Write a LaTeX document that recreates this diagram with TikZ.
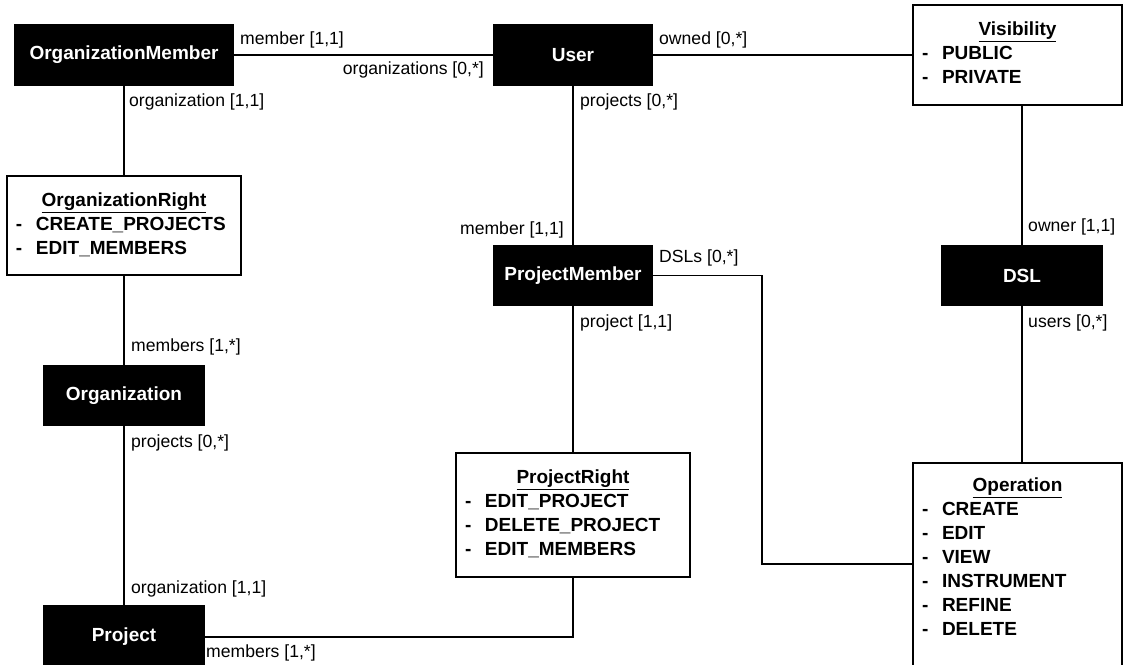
\documentclass[tikz,border=0pt]{standalone}
\usepackage{fontspec}
\setmainfont{Liberation Sans}

\tikzset{
  entity/.style={shape=rectangle, draw, fill=black, text=white, line width=1.3pt,
    minimum height=60pt, inner sep=0pt, font=\bfseries\fontsize{19}{24}\selectfont},
  enumbox/.style={shape=rectangle, draw, fill=white, line width=1.3pt, align=left,
    inner xsep=9pt, inner ysep=0pt, font=\bfseries\fontsize{19}{24}\selectfont},
  role/.style={inner sep=0pt, font=\fontsize{17.6}{21}\selectfont},
  assoc/.style={draw, line width=1.3pt}
}
\newcommand{\enumhead}[1]{\strut\hfill\underline{#1}\hfill\mbox{}}
\newcommand{\litem}[1]{\strut\makebox[20pt][l]{-}#1}

\begin{document}
\begin{tikzpicture}[x=1pt,y=-1pt]
\useasboundingbox (0,0) rectangle (1123,664);

% entities
\path (124,55) node (OrgMember) [entity, minimum width=219pt] {OrganizationMember};
\path (573,55) node (User) [entity, minimum width=159pt] {User};
\path (573,275.5) node (ProjMember) [entity, minimum width=159pt, minimum height=59pt] {ProjectMember};
\path (1022,275.5) node (DSL) [entity, minimum width=160pt, minimum height=59pt] {DSL};
\path (124,395.5) node (Org) [entity, minimum width=160pt, minimum height=59pt] {Organization};
\path (124,637) node (Project) [entity, minimum width=160pt, minimum height=62pt] {Project};

% enumerations
\path (1017.5,55) node (Visibility) [enumbox, text width=191pt, minimum height=100pt]
  {\enumhead{Visibility}\\ \litem{PUBLIC}\\ \litem{PRIVATE}};
\path (124,225.5) node (OrgRight) [enumbox, text width=216pt, minimum height=99pt]
  {\enumhead{OrganizationRight}\\ \litem{CREATE\_PROJECTS}\\ \litem{EDIT\_MEMBERS}};
\path (573,515) node (ProjRight) [enumbox, text width=216pt, minimum height=124pt]
  {\enumhead{ProjectRight}\\ \litem{EDIT\_PROJECT}\\ \litem{DELETE\_PROJECT}\\ \litem{EDIT\_MEMBERS}};
\path (1017.5,573) node (Operation) [enumbox, text width=191pt, minimum height=220pt]
  {\enumhead{Operation}\\ \litem{CREATE}\\ \litem{EDIT}\\ \litem{VIEW}\\ \litem{INSTRUMENT}\\
   \litem{REFINE}\\ \litem{DELETE}\rule[-35pt]{0pt}{0pt}};

% associations
\coordinate (dslbend) at (762,564);
\draw[assoc] (OrgMember.east) -- (User.west);
\draw[assoc] (User.east) -- (Visibility.west);
\draw[assoc] (OrgMember.south) -- (OrgRight.north);
\draw[assoc] (OrgRight.south) -- (Org.north);
\draw[assoc] (Org.south) -- (Project.north);
\draw[assoc] (User.south) -- (ProjMember.north);
\draw[assoc] (ProjMember.south) -- (ProjRight.north);
\draw[assoc] (ProjRight.south) |- (Project.east);
\draw[assoc] (ProjMember.east) -| (dslbend) -- (dslbend -| Operation.west);
\draw[assoc] (DSL.north) -- (DSL.north |- Visibility.south);
\draw[assoc] (DSL.south) -- (DSL.south |- Operation.north);

% roles
\path (240,40) node (rOMuser) [role, anchor=west] {member [1,1]};
\path (484,70) node (rUserOM) [role, anchor=east] {organizations [0,*]};
\path (659,40) node (rUserVis) [role, anchor=west] {owned [0,*]};
\path (129,102) node (rOMorg) [role, anchor=west] {organization [1,1]};
\path (580,102) node (rUserPM) [role, anchor=west] {projects [0,*]};
\path (564,230) node (rPMuser) [role, anchor=east] {member [1,1]};
\path (659,258) node (rPMdsl) [role, anchor=west] {DSLs [0,*]};
\path (580,323) node (rPMproj) [role, anchor=west] {project [1,1]};
\path (1028,227) node (rDSLowner) [role, anchor=west] {owner [1,1]};
\path (1028,323) node (rDSLusers) [role, anchor=west] {users [0,*]};
\path (131,347) node (rOrgmem) [role, anchor=west] {members [1,*]};
\path (131,443) node (rOrgproj) [role, anchor=west] {projects [0,*]};
\path (131,589) node (rProjorg) [role, anchor=west] {organization [1,1]};
\path (206,653) node (rProjmem) [role, anchor=west] {members [1,*]};

\end{tikzpicture}
\end{document}
